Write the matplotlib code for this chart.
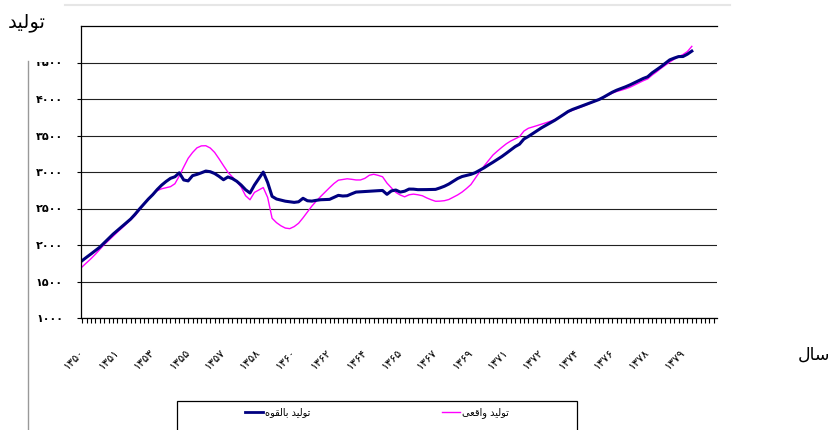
import matplotlib
matplotlib.use('Agg')
import matplotlib.pyplot as plt
from matplotlib.patches import Rectangle
from matplotlib.lines import Line2D

# year labels shown every 8th category
years = ['۱۳۵۰', '۱۳۵۱', '۱۳۵۳', '۱۳۵۵', '۱۳۵۷', '۱۳۵۸', '۱۳۶۰', '۱۳۶۲', '۱۳۶۴',
         '۱۳۶۵', '۱۳۶۷', '۱۳۶۹', '۱۳۷۱', '۱۳۷۲', '۱۳۷۴', '۱۳۷۶', '۱۳۷۸', '۱۳۷۹']
n_categories = 144
label_step = 8

# potential output (tolid-e bel-qovveh)
potential = [1785, 1832, 1877, 1924, 1970, 2029, 2090, 2148, 2200, 2250,
             2303, 2356, 2422, 2494, 2562, 2630, 2690, 2760, 2820, 2870,
             2913, 2935, 2989, 2891, 2878, 2950, 2967, 2989, 3013, 3004,
             2979, 2940, 2894, 2932, 2910, 2873, 2821, 2757, 2712, 2821,
             2911, 2999, 2856, 2666, 2630, 2615, 2600, 2592, 2584, 2592,
             2640, 2606, 2601, 2612, 2620, 2622, 2625, 2652, 2680, 2671,
             2675, 2701, 2725, 2729, 2732, 2736, 2740, 2744, 2747, 2694,
             2741, 2753, 2725, 2737, 2766, 2765, 2758, 2758, 2759, 2760,
             2762, 2782, 2805, 2835, 2873, 2911, 2938, 2953, 2968, 2991,
             3024, 3058, 3097, 3134, 3173, 3212, 3256, 3302, 3347, 3381,
             3452, 3487, 3527, 3566, 3606, 3640, 3674, 3709, 3748, 3788,
             3829, 3857, 3879, 3902, 3925, 3947, 3970, 3993, 4024, 4058,
             4093, 4121, 4144, 4167, 4193, 4222, 4252, 4281, 4304, 4357,
             4400, 4442, 4489, 4536, 4560, 4581, 4582, 4614, 4656]

# actual output (tolid-e vaqei)
actual = [1700, 1756, 1812, 1873, 1940, 2005, 2063, 2121, 2177, 2231,
          2287, 2346, 2404, 2482, 2560, 2630, 2700, 2745, 2770, 2785,
          2799, 2839, 2946, 3069, 3187, 3267, 3331, 3358, 3360, 3329,
          3268, 3180, 3087, 2997, 2933, 2869, 2793, 2675, 2620, 2720,
          2754, 2787, 2651, 2366, 2306, 2263, 2232, 2224, 2252, 2298,
          2372, 2452, 2533, 2601, 2665, 2725, 2785, 2842, 2888, 2898,
          2907, 2900, 2891, 2891, 2913, 2955, 2969, 2954, 2935, 2848,
          2783, 2721, 2685, 2660, 2688, 2697, 2688, 2675, 2645, 2620,
          2599, 2601, 2607, 2623, 2654, 2686, 2725, 2774, 2828, 2915,
          3004, 3083, 3159, 3233, 3287, 3338, 3386, 3424, 3454, 3484,
          3561, 3599, 3617, 3636, 3655, 3675, 3695, 3718, 3752, 3786,
          3820, 3846, 3869, 3892, 3915, 3941, 3966, 3992, 4019, 4050,
          4080, 4103, 4120, 4139, 4161, 4191, 4221, 4250, 4275, 4327,
          4371, 4419, 4463, 4506, 4545, 4580, 4609, 4650, 4721]

y_ticks = [1000, 1500, 2000, 2500, 3000, 3500, 4000, 4500]
y_tick_labels = ['۱۰۰۰', '۱۵۰۰', '۲۰۰۰', '۲۵۰۰', '۳۰۰۰', '۳۵۰۰', '۴۰۰۰', '۴۵۰۰']

# matplotlib does not shape Arabic script, so the words are written
# with presentation forms in visual (left to right) order
y_title = '\ufeaa\ufef4\ufedf\ufeee\ufe97'                       # تولید
x_title = '\ufedd\ufe8e\ufeb3'                                   # سال
label_potential = '\ufee9\ufeee\ufed8\ufedf\ufe8e\ufe91 ' + y_title  # تولید بالقوه
label_actual = '\ufef0\ufecc\ufed7\ufe8d\ufeed ' + y_title          # تولید واقعی

plt.rcParams['font.family'] = ['DejaVu Sans']

fig = plt.figure(figsize=(8.32, 4.30), dpi=100)
ax = fig.add_axes([81 / 832, 112 / 430, 636 / 832, 292 / 430])

x = range(len(potential))
ax.plot(x, actual, color='#ff00ff', lw=1.0)
ax.plot(x, potential, color='#000080', lw=2.2)

ax.set_xlim(-0.25, 143.7)
ax.set_ylim(1000, 5000)

ax.set_yticks(y_ticks, y_tick_labels, fontsize=8, fontweight='bold')
ax.yaxis.grid(True, color='#222222', lw=0.8)
ax.set_axisbelow(True)

ax.set_xticks(range(0, label_step * len(years), label_step), years, fontsize=8)
ax.set_xticks(range(n_categories), minor=True)
plt.setp(ax.get_xticklabels(), rotation=45, ha='right', va='center', rotation_mode='anchor')
ax.tick_params(axis='x', which='both', direction='out', length=3.5, width=0.8)
ax.tick_params(axis='x', which='major', pad=20)
ax.tick_params(axis='y', length=3, width=0.8, pad=10)

ax.spines['right'].set_visible(False)
for s in ['left', 'bottom', 'top']:
    ax.spines[s].set_linewidth(0.9)

# frame pieces around the chart
fig.add_artist(Line2D([28 / 832, 28 / 832], [0, 1 - 61 / 430], color='#999999', lw=1))
fig.add_artist(Line2D([65 / 832, 730 / 832], [1 - 5 / 430, 1 - 5 / 430], color='#e6e6e6', lw=1.5))
fig.add_artist(Rectangle((30 / 832, 1 - 62 / 430), 48 / 832, 62 / 430, transform=fig.transFigure,
                         facecolor='white', edgecolor='none', zorder=1.5))

fig.text(8 / 832, 1 - 22 / 430, y_title, fontsize=14, ha='left', va='center')
fig.text(830 / 832, 1 - 355 / 430, x_title, fontsize=12.5, ha='right', va='center')

# legend box, cut by the bottom edge
fig.add_artist(Rectangle((177 / 832, -0.05), 400 / 832, 0.05 + 29 / 430, transform=fig.transFigure,
                         fill=False, edgecolor='black', lw=0.9))
handles = [Line2D([], [], color='#000080', lw=2), Line2D([], [], color='#ff00ff', lw=1)]
fig.legend(handles, [label_potential, label_actual], loc='center left',
           bbox_to_anchor=(245 / 832, 1 - 413 / 430), ncol=2, frameon=False, fontsize=7,
           handlelength=1.8, handletextpad=0.3, columnspacing=13.5, borderpad=0, borderaxespad=0)

fig.savefig('out.png', dpi=100)
